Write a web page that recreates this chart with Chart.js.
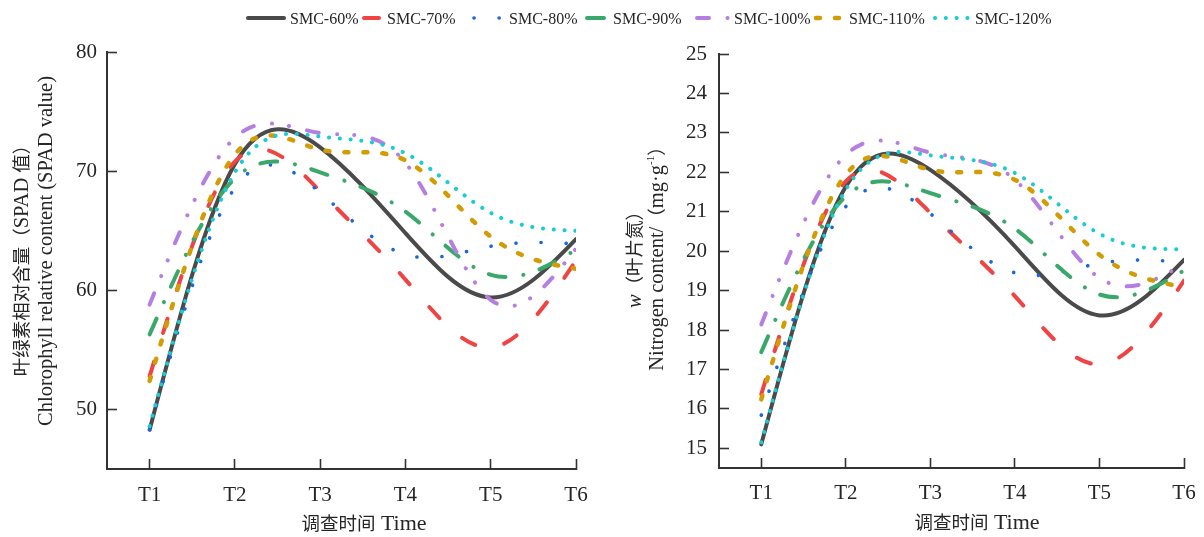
<!DOCTYPE html>
<html>
<head>
<meta charset="utf-8">
<script src="https://cdn.jsdelivr.net/npm/chart.js@4.4.1/dist/chart.umd.min.js"></script>
<style>
html,body{margin:0;padding:0;background:#fff;}
#wrap{position:relative;width:1204px;height:537px;overflow:hidden;font-family:'Liberation Serif','Times New Roman','Noto Sans CJK SC',serif;color:#262626;}
#c1{position:absolute;left:0;top:0;}
#c2{position:absolute;left:600px;top:0;}
.lg{position:absolute;top:8px;height:20px;}
.lg canvas{position:absolute;left:0;top:0;}
.lg span{position:absolute;top:1px;font-size:16px;line-height:20px;white-space:nowrap;}
.vt{position:absolute;white-space:nowrap;transform:translate(-50%,-50%) rotate(-90deg);font-size:20.5px;line-height:1;}
.ht{position:absolute;white-space:nowrap;transform:translate(-50%,-50%);font-size:22px;line-height:1;}
.cjk{font-family:'Noto Sans CJK SC';font-size:18.5px;}
.it{font-style:italic;}
sup{font-size:11px;vertical-align:9px;line-height:0;}
</style>
</head>
<body>
<div id="wrap">
  <canvas id="c1" width="600" height="537"></canvas>
  <canvas id="c2" width="604" height="537"></canvas>
  <div class="vt" style="left:21px;top:256px;"><span class="cjk">叶绿素相对含量（</span>SPAD <span class="cjk">值）</span></div>
  <div class="vt" style="left:45px;top:251px;">Chlorophyll relative content (SPAD value)</div>
  <div class="ht" style="left:364px;top:523px;"><span class="cjk">调查时间</span> Time</div>
  <div class="vt" style="left:634px;top:255px;"><span class="it">w</span><span class="cjk">（叶片氮）</span></div>
  <div class="vt" style="left:656px;top:254px;">Nitrogen content/<span class="cjk">（</span>mg·g<sup>-1</sup><span class="cjk">）</span></div>
  <div class="ht" style="left:977px;top:522px;"><span class="cjk">调查时间</span> Time</div>
  <div id="legend"></div>
</div>
<script>
// ---------- data ----------
const categories = ['T1', 'T2', 'T3', 'T4', 'T5', 'T6'];
const seriesNames = ['SMC-60%', 'SMC-70%', 'SMC-80%', 'SMC-90%', 'SMC-100%', 'SMC-110%', 'SMC-120%'];
const spadTicks = [50, 60, 70, 80];
const nTicks = [15, 16, 17, 18, 19, 20, 21, 22, 23, 24, 25];

// Chlorophyll relative content (SPAD value)
const spad60  = [48.3, 70.6, 72.0, 64.8, 59.4, 64.3];
const spad70  = [52.8, 70.8, 68.3, 60.9, 55.2, 62.5];
const spad80  = [48.3, 68.6, 68.2, 63.0, 63.7, 63.9];
const spad90  = [56.3, 69.4, 69.9, 66.6, 61.3, 63.4];
const spad100 = [58.8, 72.8, 73.2, 70.7, 59.2, 63.5];
const spad110 = [52.4, 71.4, 71.8, 70.9, 64.5, 61.8];
const spad120 = [48.6, 69.9, 72.9, 71.5, 66.5, 65.0];

// Nitrogen content (mg/g)
const n60  = [15.10, 21.64, 22.06, 20.12, 18.37, 19.78];
const n70  = [16.37, 21.77, 20.97, 18.86, 17.13, 19.25];
const n80  = [15.84, 21.13, 20.95, 19.45, 19.69, 19.72];
const n90  = [17.44, 21.39, 21.47, 20.57, 18.90, 19.51];
const n100 = [18.14, 22.44, 22.50, 21.81, 19.32, 19.68];
const n110 = [16.24, 21.94, 22.06, 21.81, 19.91, 19.09];
const n120 = [15.15, 21.56, 22.43, 21.98, 20.44, 20.05];

// ---------- styles ----------
const styles = [
  {color: '#4a4a4a', dash: [],                          width: 4},
  {color: '#f04444', dash: [15, 30],                    width: 4},
  {color: '#1a66dd', dash: [0.1, 25],                   width: 3.6},
  {color: '#3ba86b', dash: [17, 18, 0.1, 17],           width: 4},
  {color: '#b57fe2', dash: [12, 18.5, 0.1, 17, 0.1, 18.5], width: 4},
  {color: '#d29c04', dash: [4, 15],                     width: 4.5},
  {color: '#18ccd3', dash: [0.1, 10.7],                 width: 4},
];

// ---------- natural cubic spline control points ----------
function naturalDerivs(xs, ys) {
  const n = xs.length, h = [], d = [];
  for (let i = 0; i < n - 1; i++) { h[i] = xs[i + 1] - xs[i]; d[i] = (ys[i + 1] - ys[i]) / h[i]; }
  const M = new Array(n).fill(0);
  if (n > 2) {
    const a = [], b = [], c = [], r = [];
    for (let i = 1; i < n - 1; i++) {
      a.push(h[i - 1]); b.push(2 * (h[i - 1] + h[i])); c.push(h[i]); r.push(6 * (d[i] - d[i - 1]));
    }
    const m = b.length;
    for (let i = 1; i < m; i++) { const w = a[i] / b[i - 1]; b[i] -= w * c[i - 1]; r[i] -= w * r[i - 1]; }
    const sol = new Array(m);
    sol[m - 1] = r[m - 1] / b[m - 1];
    for (let i = m - 2; i >= 0; i--) sol[i] = (r[i] - c[i] * sol[i + 1]) / b[i];
    for (let i = 0; i < m; i++) M[i + 1] = sol[i];
  }
  const der = [];
  for (let i = 0; i < n - 1; i++) der[i] = d[i] - h[i] * (2 * M[i] + M[i + 1]) / 6;
  der[n - 1] = d[n - 2] + h[n - 2] * (M[n - 2] + 2 * M[n - 1]) / 6;
  return der;
}
const naturalSpline = {
  id: 'naturalSpline',
  beforeDatasetDraw(chart, args) {
    const meta = args.meta, line = meta.dataset, pts = meta.data;
    if (!line || pts.length < 3) return;
    line.updateControlPoints(chart.chartArea, meta.iScale.axis);
    const xs = pts.map(p => p.x), ys = pts.map(p => p.y);
    const der = naturalDerivs(xs, ys);
    for (let i = 0; i < pts.length - 1; i++) {
      const h3 = (xs[i + 1] - xs[i]) / 3;
      pts[i].cp2x = xs[i] + h3; pts[i].cp2y = ys[i] + der[i] * h3;
      pts[i + 1].cp1x = xs[i + 1] - h3; pts[i + 1].cp1y = ys[i + 1] - der[i + 1] * h3;
    }
    line._path = undefined;
  }
};

const FONT = "'Liberation Serif', 'Times New Roman', serif";
const INK = '#262626';

function buildDatasets(seriesList) {
  return seriesList.map((vals, i) => ({
    label: seriesNames[i],
    data: vals.map((v, k) => ({x: k, y: v})),
    borderColor: styles[i].color,
    backgroundColor: styles[i].color,
    borderWidth: styles[i].width,
    borderDash: styles[i].dash,
    borderCapStyle: 'round',
    borderJoinStyle: 'round',
    pointRadius: 0,
    pointHoverRadius: 0,
    tension: 0.4,
    fill: false,
    order: seriesList.length - i
  }));
}

function zeroPad(s) { s.paddingLeft = 0; s.paddingRight = 0; s.paddingTop = 0; s.paddingBottom = 0; }

function makeChart(id, seriesList, yMin, yMax, yTicks, opts) {
  return new Chart(document.getElementById(id), {
    type: 'line',
    data: {datasets: buildDatasets(seriesList)},
    plugins: [naturalSpline],
    options: {
      responsive: false,
      animation: false,
      events: [],
      layout: {padding: {left: 0, right: opts.padRight, top: opts.padTop, bottom: 0}},
      plugins: {legend: {display: false}, tooltip: {enabled: false}, title: {display: false}},
      scales: {
        x: {
          type: 'linear', min: -0.5, max: categories.length - 1,
          afterBuildTicks: s => { s.ticks = categories.map((c, i) => ({value: i})); },
          afterFit: s => { s.height = opts.xHeight; zeroPad(s); },
          ticks: {autoSkip: false, maxRotation: 0, padding: opts.xPad,
                  color: INK, font: {family: FONT, size: 21},
                  callback: v => categories[v] ?? ''},
          grid: {display: true, drawOnChartArea: false, drawTicks: true, tickLength: -10, tickWidth: 1.6, tickColor: '#333'},
          border: {display: true, color: '#333', width: 2}
        },
        y: {
          type: 'linear', min: yMin, max: yMax,
          afterBuildTicks: s => { s.ticks = yTicks.map(v => ({value: v})); },
          afterFit: s => { s.width = opts.yWidth; zeroPad(s); },
          ticks: {padding: opts.yPad, color: INK, font: {family: FONT, size: 21}},
          grid: {display: true, drawOnChartArea: false, drawTicks: true, tickLength: -10, tickWidth: 1.6, tickColor: '#333'},
          border: {display: true, color: '#333', width: 2}
        }
      }
    }
  });
}

makeChart('c1', [spad60, spad70, spad80, spad90, spad100, spad110, spad120], 45, 80, spadTicks,
  {padRight: 24, padTop: 52, xHeight: 68, yWidth: 107, yPad: 20, xPad: 24});
makeChart('c2', [n60, n70, n80, n90, n100, n110, n120], 14.5, 25, nTicks,
  {padRight: 20, padTop: 54, xHeight: 69, yWidth: 119, yPad: 22, xPad: 23});

// ---------- legend ----------
const legendPos = [
  {left: 246, w: 40, text: 290},
  {left: 362, w: 22, text: 387},
  {left: 472, w: 33, text: 509},
  {left: 585, w: 25, text: 613},
  {left: 695, w: 37, text: 734},
  {left: 814, w: 32, text: 849},
  {left: 933, w: 39, text: 975},
];
const legend = document.getElementById('legend');
seriesNames.forEach((name, i) => {
  const p = legendPos[i], st = styles[i];
  const item = document.createElement('div');
  item.className = 'lg';
  item.style.left = p.left + 'px';
  const cv = document.createElement('canvas');
  cv.width = p.w; cv.height = 20;
  item.appendChild(cv);
  const sp = document.createElement('span');
  sp.textContent = name;
  sp.style.left = (p.text - p.left) + 'px';
  item.appendChild(sp);
  legend.appendChild(item);
  const ctx = cv.getContext('2d');
  ctx.strokeStyle = st.color; ctx.lineWidth = st.width; ctx.lineCap = 'round';
  ctx.setLineDash(st.dash);
  ctx.beginPath(); ctx.moveTo(2, 10); ctx.lineTo(p.w - 2, 10); ctx.stroke();
});
</script>
</body>
</html>
